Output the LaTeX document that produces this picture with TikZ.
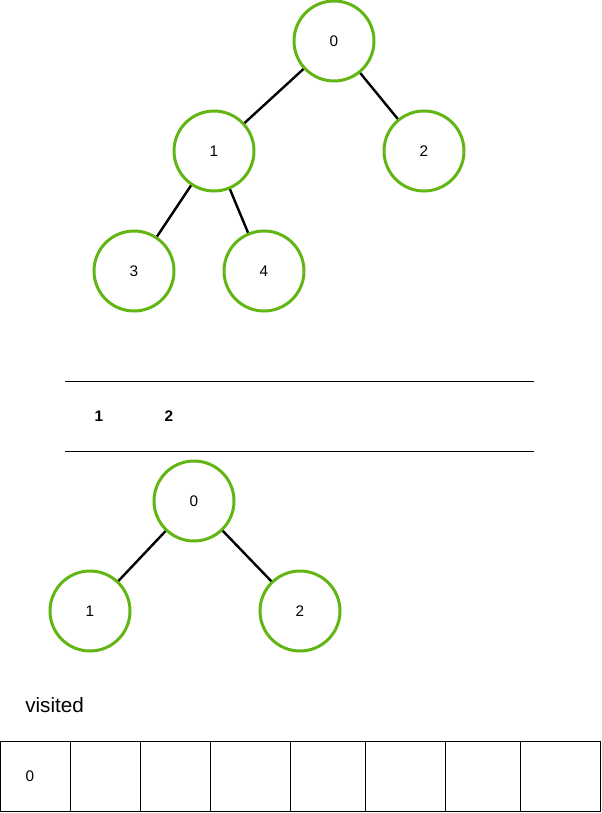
\documentclass[tikz,border=0pt]{standalone}
\usepackage{fontspec}
\setmainfont{Liberation Sans}
\usepackage{tikz}
\usetikzlibrary{positioning}
\usetikzlibrary{calc}
\definecolor{treegreen}{RGB}{98,182,20}
\newcommand{\vnode}[3]{\node(#1)[vertex] at (#2){#3}}
\newcommand{\vcell}[3]{\node(#1)[cell,minimum width=#3*0.75pt] at (#2,776){}}

\begin{document}
\begin{tikzpicture}[
        x=0.75pt, y=-0.75pt,
        every node/.style={font=\fontsize{11.5}{13}\selectfont},
        vertex/.style={circle,minimum size=60pt,inner sep=0pt,
                       line width=2.25pt,draw=treegreen},
        cell/.style={rectangle,minimum height=52.5pt,inner sep=0pt,
                     line width=0.75pt,draw=black},
        link/.style={line width=1.8pt,draw=black}
      ]
      \useasboundingbox (0,0) rectangle (601,813);

      % first tree
      \vnode{a0}{334,41}{0};
      \vnode{a1}{214,151}{1};
      \vnode{a2}{424,151}{2};
      \vnode{a3}{134,271}{3};
      \vnode{a4}{264,271}{4};
      \path[link]
        (a0) edge (a1)
        (a0) edge (a2)
        (a1) edge (a3)
        (a1) edge (a4);

      % queue
      \draw[line width=0.75pt] (65,381) -- (534,381);
      \draw[line width=0.75pt] (65,451) -- (534,451);
      \node (q1) at (99,416) {\bfseries 1};
      \node (q2) at (169,416) {\bfseries 2};

      % second tree
      \vnode{b0}{194,501}{0};
      \vnode{b1}{90,611}{1};
      \vnode{b2}{300,611}{2};
      \path[link]
        (b0) edge (b1)
        (b0) edge (b2);

      % visited array
      \node (vis)[anchor=base west,inner sep=0pt,font=\fontsize{15.5}{18}\selectfont] at (25,712) {visited};
      \vcell{c0}{35}{70};
      \vcell{c1}{105}{70};
      \vcell{c2}{175}{70};
      \vcell{c3}{250}{80};
      \vcell{c4}{327.5}{75};
      \vcell{c5}{405}{80};
      \vcell{c6}{482.5}{75};
      \vcell{c7}{560}{80};
      \node (v0) at (30,776) {0};
    \end{tikzpicture}
\end{document}
